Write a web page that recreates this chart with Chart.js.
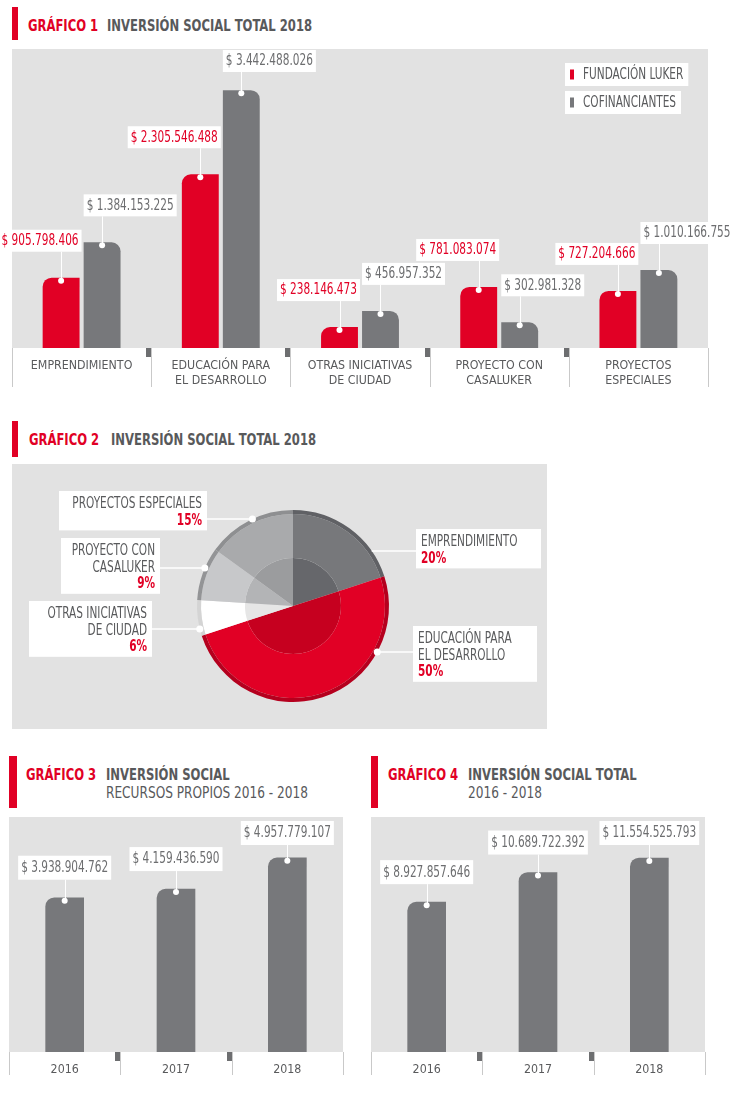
<!DOCTYPE html>
<html lang="es">
<head>
<meta charset="utf-8">
<title>Inversión social</title>
<script src="https://cdn.jsdelivr.net/npm/chart.js@4.4.1/dist/chart.umd.min.js"></script>
<style>
  body { margin: 0; background: #fff; font-family: 'DejaVu Sans Condensed', 'DejaVu Sans', sans-serif; }
  #hoja { position: relative; width: 735px; height: 1108px; overflow: hidden; }
  .barra-roja { position: absolute; background: #e10025; }
  .t { position: absolute; white-space: nowrap; font-size: 15px; line-height: 20px; color: #58595b; font-weight: bold;
       transform: scaleX(0.86); transform-origin: 0 50%; }
  .t.rojo { color: #e10025; }
  .t.sub { font-weight: normal; transform: scaleX(0.9); }
  .caja { position: absolute; }
  .panel { position: absolute; background: #e2e2e2; }
</style>
</head>
<body>
<div id="hoja">
  <!-- Gráfico 1 -->
  <div class="barra-roja" style="left:12px;top:7px;width:6px;height:33px"></div>
  <div class="t rojo" style="left:28px;top:16px">GRÁFICO 1</div>
  <div class="t" style="left:107px;top:16px">INVERSIÓN SOCIAL TOTAL 2018</div>
  <div class="caja" style="left:0;top:40px;width:735px;height:360px"><canvas id="grafico1"></canvas></div>

  <!-- Gráfico 2 -->
  <div class="barra-roja" style="left:12px;top:421px;width:6px;height:36px"></div>
  <div class="t rojo" style="left:29px;top:430px">GRÁFICO 2</div>
  <div class="t" style="left:111px;top:430px">INVERSIÓN SOCIAL TOTAL 2018</div>
  <div class="panel" style="left:12px;top:464px;width:535px;height:265px"></div>
  <div class="caja" style="left:12px;top:464px;width:535px;height:265px"><canvas id="grafico2"></canvas></div>

  <!-- Gráfico 3 -->
  <div class="barra-roja" style="left:9px;top:756px;width:8px;height:52px"></div>
  <div class="t rojo" style="left:26px;top:765px">GRÁFICO 3</div>
  <div class="t" style="left:106px;top:765px">INVERSIÓN SOCIAL</div>
  <div class="t sub" style="left:106px;top:783px">RECURSOS PROPIOS 2016 - 2018</div>
  <div class="caja" style="left:0;top:800px;width:360px;height:290px"><canvas id="grafico3"></canvas></div>

  <!-- Gráfico 4 -->
  <div class="barra-roja" style="left:371px;top:756px;width:7px;height:52px"></div>
  <div class="t rojo" style="left:388px;top:765px">GRÁFICO 4</div>
  <div class="t" style="left:468px;top:765px">INVERSIÓN SOCIAL TOTAL</div>
  <div class="t sub" style="left:468px;top:783px">2016 - 2018</div>
  <div class="caja" style="left:362px;top:800px;width:360px;height:290px"><canvas id="grafico4"></canvas></div>
</div>

<script>
// Datos gráfico 1
const categorias1 = [['EMPRENDIMIENTO'], ['EDUCACIÓN PARA', 'EL DESARROLLO'], ['OTRAS INICIATIVAS', 'DE CIUDAD'], ['PROYECTO CON', 'CASALUKER'], ['PROYECTOS', 'ESPECIALES']];
const series1 = ['FUNDACIÓN LUKER', 'COFINANCIANTES'];
const fundacionLuker = [905798406, 2305546488, 238146473, 781083074, 727204666];
const cofinanciantes = [1384153225, 3442488026, 456957352, 302981328, 1010166755];

// Datos gráfico 2 (porcentajes)
const categoriasPie = [['EMPRENDIMIENTO'], ['EDUCACIÓN PARA', 'EL DESARROLLO'], ['OTRAS INICIATIVAS', 'DE CIUDAD'], ['PROYECTO CON', 'CASALUKER'], ['PROYECTOS ESPECIALES']];
const porcentajesPie = [20, 50, 6, 9, 15];

// Datos gráficos 3 y 4
const anios = ['2016', '2017', '2018'];
const recursosPropios = [3938904762, 4159436590, 4957779107];
const inversionTotal = [8927857646, 10689722392, 11554525793];

const FUENTE = "'DejaVu Sans Condensed', 'DejaVu Sans', sans-serif";
const ROJO = '#e10025';
const GRIS = '#77787b';
const PANEL = '#e2e2e2';
const TEXTO = '#595a5c';
const TEXTO_VALOR = '#6d6e70';
const COMPRIMIR = 0.78; // la fuente original es más estrecha

function formatoPesos(v) {
  return '$ ' + String(v).replace(/\B(?=(\d{3})+(?!\d))/g, '.');
}

// ancho del texto ya comprimido
function anchoTexto(ctx, txt) {
  return ctx.measureText(txt).width * COMPRIMIR;
}
function textoEstrecho(ctx, txt, x, y) {
  ctx.fillText(txt, x, y, anchoTexto(ctx, txt));
}

// Fondo gris, separadores de categorías y cajas con los valores
const panelBarras = {
  id: 'panelBarras',
  beforeDraw(chart) {
    const { ctx, chartArea: a } = chart;
    ctx.save();
    ctx.fillStyle = PANEL;
    ctx.fillRect(a.left, a.top, a.right - a.left, a.bottom - a.top);
    ctx.restore();
  },
  afterDatasetsDraw(chart, args, opts) {
    const { ctx, chartArea: a } = chart;
    const n = chart.data.labels.length;
    const paso = (a.right - a.left) / n;
    ctx.save();

    // separadores bajo el eje
    for (let i = 0; i <= n; i++) {
      const px = Math.round(a.left + i * paso) + 0.5;
      ctx.strokeStyle = '#c9c9c9';
      ctx.lineWidth = 1;
      ctx.beginPath();
      ctx.moveTo(px, a.bottom);
      ctx.lineTo(px, a.bottom + opts.altoFranja);
      ctx.stroke();
      if (i > 0 && i < n) {
        ctx.fillStyle = TEXTO_VALOR;
        ctx.fillRect(px - 5.5, a.bottom, 5, 9);
      }
    }

    // cajas de valores
    ctx.font = `15px ${FUENTE}`;
    ctx.textBaseline = 'middle';
    ctx.textAlign = 'center';
    chart.data.datasets.forEach((ds, di) => {
      const meta = chart.getDatasetMeta(di);
      meta.data.forEach((bar, i) => {
        const txt = formatoPesos(ds.data[i]);
        const w = anchoTexto(ctx, txt) + 6;
        const h = opts.altoCaja;
        let left;
        if (opts.alinear === 'centro') left = bar.x - w / 2;
        else if (di === 0) left = bar.x + bar.width / 2 - w + 2;
        else left = bar.x - bar.width / 2;
        let top = bar.y - opts.separacion - h / 2;
        if (top < a.top + opts.margenSup) top = a.top + opts.margenSup;

        const cx = Math.round(bar.x) + 0.5;
        ctx.strokeStyle = '#fff';
        ctx.lineWidth = 1;
        ctx.beginPath();
        ctx.moveTo(cx, top + h);
        ctx.lineTo(cx, bar.y + 3);
        ctx.stroke();
        ctx.fillStyle = '#fff';
        ctx.beginPath();
        ctx.arc(bar.x, bar.y + 3, 3, 0, Math.PI * 2);
        ctx.fill();
        ctx.fillRect(left, top, w, h);
        ctx.fillStyle = opts.coloresTexto[di];
        textoEstrecho(ctx, txt, left + w / 2, top + h / 2 + 0.5);
      });
    });
    ctx.restore();
  }
};

// Leyenda en cajas blancas (gráfico 1)
const leyendaCajas = {
  id: 'leyendaCajas',
  afterDraw(chart, args, opts) {
    const { ctx } = chart;
    ctx.save();
    ctx.font = `15px ${FUENTE}`;
    ctx.textBaseline = 'middle';
    ctx.textAlign = 'left';
    chart.data.datasets.forEach((ds, i) => {
      const y = opts.y + i * opts.paso;
      const w = 18 + anchoTexto(ctx, ds.label) + 5;
      ctx.fillStyle = '#fff';
      ctx.fillRect(opts.x, y, w, opts.alto);
      ctx.fillStyle = ds.backgroundColor;
      ctx.fillRect(opts.x + 5, y + opts.alto / 2 - 5, 4, 10);
      ctx.fillStyle = TEXTO;
      textoEstrecho(ctx, ds.label, opts.x + 18, y + opts.alto / 2 + 0.5);
    });
    ctx.restore();
  }
};

function ejeX(alto) {
  return {
    grid: { display: false, drawTicks: false },
    border: { display: false },
    ticks: {
      font: { family: FUENTE, size: 12.3, lineHeight: 1.2 },
      color: TEXTO,
      padding: 10.5,
      autoSkip: false,
      maxRotation: 0
    },
    afterFit(scale) { scale.height = alto; }
  };
}

// Gráfico 1
const base1 = -4.5e7;
new Chart(document.getElementById('grafico1'), {
  type: 'bar',
  data: {
    labels: categorias1,
    datasets: [
      { label: series1[0], data: fundacionLuker, backgroundColor: ROJO, base: base1,
        borderRadius: { topLeft: 9, topRight: 0, bottomLeft: 0, bottomRight: 0 } },
      { label: series1[1], data: cofinanciantes, backgroundColor: GRIS, base: base1,
        borderRadius: { topLeft: 0, topRight: 9, bottomLeft: 0, bottomRight: 0 } }
    ]
  },
  options: {
    responsive: true,
    maintainAspectRatio: false,
    animation: false,
    events: [],
    categoryPercentage: 0.589,
    barPercentage: 0.9,
    layout: { padding: { left: 12, right: 27, top: 9, bottom: 12 } },
    scales: {
      x: ejeX(40),
      y: { display: false, min: base1, max: 4.0e9 }
    },
    plugins: {
      legend: { display: false },
      tooltip: { enabled: false },
      panelBarras: { altoFranja: 39, altoCaja: 22, separacion: 37, margenSup: 1, alinear: 'lados', coloresTexto: [ROJO, TEXTO_VALOR] },
      leyendaCajas: { x: 565, y: 23, paso: 28, alto: 23 }
    }
  },
  plugins: [panelBarras, leyendaCajas]
});

// Etiquetas del gráfico 2
const etiquetasPie = {
  id: 'etiquetasPie',
  afterDraw(chart, args, opts) {
    const { ctx } = chart;
    const arco = chart.getDatasetMeta(0).data[0];
    const cx = arco.x, cy = arco.y, R = arco.outerRadius;
    ctx.save();
    ctx.textBaseline = 'middle';
    opts.cajas.forEach((c, i) => {
      const lineas = categoriasPie[i];
      const izq = c.lado === 'izq';
      const dy = c.lineaY - cy;
      const dx = Math.sqrt(Math.max(R * R - dy * dy, 0));
      const px = izq ? cx - dx : cx + dx;
      const bordeX = izq ? c.x + c.w : c.x;

      ctx.strokeStyle = '#fff';
      ctx.lineWidth = 1.5;
      ctx.beginPath();
      ctx.moveTo(bordeX, c.lineaY);
      ctx.lineTo(px, c.lineaY);
      ctx.stroke();
      if (c.punto) {
        ctx.fillStyle = '#fff';
        ctx.beginPath();
        ctx.arc(px, c.lineaY, 3.5, 0, Math.PI * 2);
        ctx.fill();
      }

      const h = 13 + lineas.length * 16.4 + 10;
      ctx.fillStyle = '#fff';
      ctx.fillRect(c.x, c.y, c.w, h);
      const tx = izq ? c.x + c.w - 5 : c.x + 5;
      ctx.textAlign = izq ? 'right' : 'left';
      ctx.font = `15px ${FUENTE}`;
      ctx.fillStyle = TEXTO;
      lineas.forEach((l, j) => textoEstrecho(ctx, l, tx, c.y + 13.5 + j * 16.4));
      ctx.font = `bold 15px ${FUENTE}`;
      ctx.fillStyle = ROJO;
      textoEstrecho(ctx, porcentajesPie[i] + '%', tx, c.y + 13.5 + lineas.length * 16.4);
    });
    ctx.restore();
  }
};

// Gráfico 2
new Chart(document.getElementById('grafico2'), {
  type: 'doughnut',
  data: {
    labels: categoriasPie.map(l => l.join(' ')),
    datasets: [
      { data: porcentajesPie, weight: 4, borderWidth: 0, hoverOffset: 0,
        backgroundColor: ['#606165', '#b5001e', '#d4d4d4', '#939496', '#8e8f91'] },
      { data: porcentajesPie, weight: 44, borderWidth: 0, hoverOffset: 0,
        backgroundColor: ['#77787b', ROJO, '#ffffff', '#c7c8ca', '#a9aaac'] },
      { data: porcentajesPie, weight: 48, borderWidth: 0, hoverOffset: 0,
        backgroundColor: ['#66676b', '#c6001f', '#e6e6e6', '#b3b4b6', '#9b9c9e'] }
    ]
  },
  options: {
    responsive: true,
    maintainAspectRatio: false,
    animation: false,
    events: [],
    cutout: 0,
    layout: { padding: { left: 185, right: 158, top: 46, bottom: 27 } },
    plugins: {
      legend: { display: false },
      tooltip: { enabled: false },
      etiquetasPie: {
        cajas: [
          { x: 404, y: 65, w: 125, lado: 'der', lineaY: 87, punto: false },
          { x: 401, y: 162, w: 124, lado: 'der', lineaY: 188, punto: true },
          { x: 17, y: 137, w: 123, lado: 'izq', lineaY: 165, punto: true },
          { x: 49, y: 74, w: 99, lado: 'izq', lineaY: 104, punto: true },
          { x: 47, y: 27, w: 148, lado: 'izq', lineaY: 55, punto: true }
        ]
      }
    }
  },
  plugins: [etiquetasPie]
});

// Gráficos 3 y 4
function graficoAnual(id, valores, maximo) {
  return new Chart(document.getElementById(id), {
    type: 'bar',
    data: {
      labels: anios,
      datasets: [{ label: 'Inversión', data: valores, backgroundColor: GRIS, barThickness: 38,
        borderRadius: { topLeft: 9, topRight: 0, bottomLeft: 0, bottomRight: 0 } }]
    },
    options: {
      responsive: true,
      maintainAspectRatio: false,
      animation: false,
      events: [],
      layout: { padding: { left: 9, right: 17, top: 17, bottom: 8 } },
      scales: {
        x: ejeX(30),
        y: { display: false, min: 0, max: maximo }
      },
      plugins: {
        legend: { display: false },
        tooltip: { enabled: false },
        panelBarras: { altoFranja: 23, altoCaja: 24, separacion: 30, margenSup: 4, alinear: 'centro', coloresTexto: [TEXTO_VALOR] }
      }
    },
    plugins: [panelBarras]
  });
}

graficoAnual('grafico3', recursosPropios, 6.0e9);
graficoAnual('grafico4', inversionTotal, 1.4e10);
</script>
</body>
</html>
